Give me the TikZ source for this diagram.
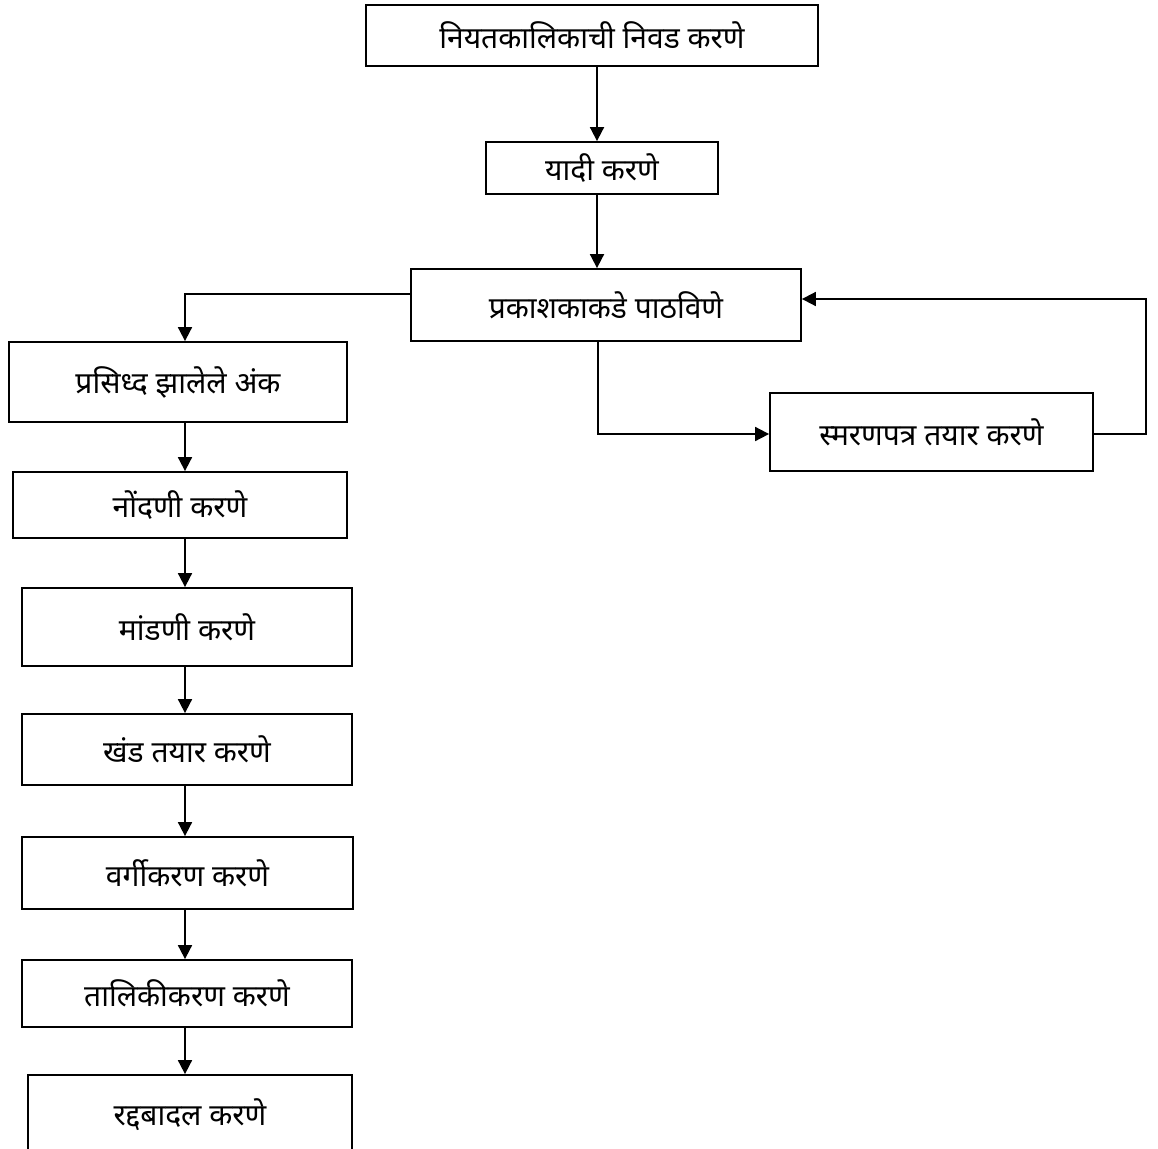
\documentclass[tikz,border=0pt]{standalone}
\usepackage{fontspec}
\newfontfamily\devfont[Script=Devanagari]{Noto Sans}
\usetikzlibrary{arrows.meta}
\begin{document}
\begin{tikzpicture}[x=1pt,y=-1pt,
  box/.style={draw,line width=1.8pt,inner sep=0pt,font=\devfont\fontsize{30}{36}\selectfont},
  arr/.style={line width=1.8pt,-{Triangle[length=14pt,width=14pt]}},
  ln/.style={line width=1.8pt}]
\useasboundingbox (0,0) rectangle (1158,1148);
\node[box,minimum width=452pt,minimum height=61pt] (n1) at (592,35.5) {नियतकालिकाची निवड करणे};
\node[box,minimum width=232pt,minimum height=52pt] (n2) at (602,168) {यादी करणे};
\node[box,minimum width=390pt,minimum height=72pt] (n3) at (606,305) {प्रकाशकाकडे पाठविणे};
\node[box,minimum width=338pt,minimum height=80pt] (n4) at (178,382) {प्रसिध्द झालेले अंक};
\node[box,minimum width=323pt,minimum height=78pt] (n5) at (931.5,432) {स्मरणपत्र तयार करणे};
\node[box,minimum width=334pt,minimum height=66pt] (n6) at (180,505) {नोंदणी करणे};
\node[box,minimum width=330pt,minimum height=78pt] (n7) at (187,627) {मांडणी करणे};
\node[box,minimum width=330pt,minimum height=71pt] (n8) at (187,749.5) {खंड तयार करणे};
\node[box,minimum width=331pt,minimum height=72pt] (n9) at (187.5,873) {वर्गीकरण करणे};
\node[box,minimum width=330pt,minimum height=67pt] (n10) at (187,993.5) {तालिकीकरण करणे};
\node[box,minimum width=324pt,minimum height=80pt] (n11) at (190,1115) {रद्दबादल करणे};
\coordinate (cx) at (185,0);
\coordinate (tx) at (597,0);
\coordinate (bx) at (598,434);
\coordinate (rx) at (1146,0);
\draw[arr] (n1.south -| tx) -- (n2.north -| tx);
\draw[arr] (n2.south -| tx) -- (n3.north -| tx);
\draw[arr] ([yshift=11pt]n3.west) -| (n4.north -| cx);
\draw[arr] (n3.south -| bx) |- (n5.west |- bx);
\draw[arr] (n5.east |- bx) -| ([yshift=6pt]n3.east -| rx) -- ([yshift=6pt]n3.east);
\draw[arr] (n4.south -| cx) -- (n6.north -| cx);
\draw[arr] (n6.south -| cx) -- (n7.north -| cx);
\draw[arr] (n7.south -| cx) -- (n8.north -| cx);
\draw[arr] (n8.south -| cx) -- (n9.north -| cx);
\draw[arr] (n9.south -| cx) -- (n10.north -| cx);
\draw[arr] (n10.south -| cx) -- (n11.north -| cx);
\end{tikzpicture}
\end{document}
